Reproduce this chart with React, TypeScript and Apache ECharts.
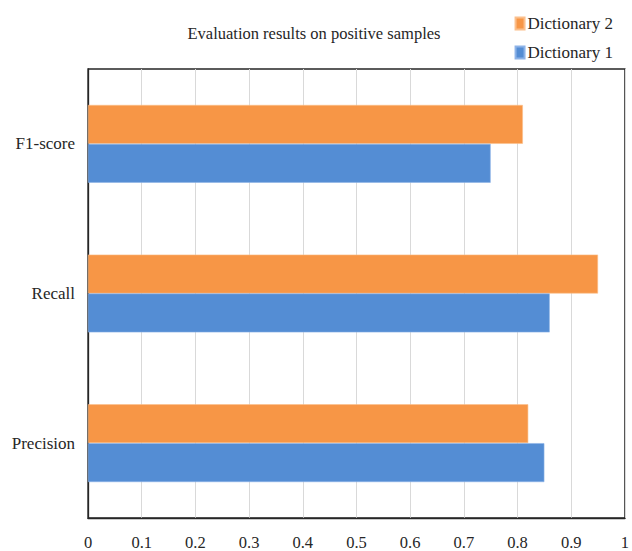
import React, { useEffect, useRef } from "react";
import * as echarts from "echarts";

const categories = ["Precision", "Recall", "F1-score"];
const dictionary1 = [0.85, 0.86, 0.75];
const dictionary2 = [0.82, 0.95, 0.81];
const xTicks = [0, 0.1, 0.2, 0.3, 0.4, 0.5, 0.6, 0.7, 0.8, 0.9, 1];

const FONT = "Liberation Serif";

export default function App() {
  const ref = useRef<HTMLDivElement>(null);

  useEffect(() => {
    if (!ref.current) return;
    const chart = echarts.init(ref.current, undefined, { renderer: "svg" });
    chart.setOption({
      animation: false,
      backgroundColor: "#ffffff",
      title: {
        text: "Evaluation results on positive samples",
        left: 309,
        textAlign: "center",
        top: 20,
        textStyle: { fontFamily: FONT, fontSize: 16.5, fontWeight: "normal", color: "#262626" },
      },
      legend: {
        orient: "vertical",
        right: 14,
        top: 10,
        itemWidth: 9,
        itemHeight: 12,
        itemGap: 12,
        icon: "rect",
        data: ["Dictionary 2", "Dictionary 1"],
        textStyle: { fontFamily: FONT, fontSize: 17, color: "#262626", padding: [0, 0, 0, -2] },
      },
      grid: {
        left: 88,
        right: 2,
        top: 69,
        bottom: 33,
        show: true,
        borderColor: "#262626",
        borderWidth: 1.3,
        backgroundColor: "transparent",
      },
      xAxis: {
        type: "value",
        min: 0,
        max: 1,
        interval: 0.1,
        axisLine: { show: true, lineStyle: { color: "#262626", width: 1.3 } },
        axisTick: { show: false },
        splitLine: { show: true, lineStyle: { color: "#d9d9d9", width: 1 } },
        axisLabel: {
          margin: 16,
          fontFamily: FONT,
          fontSize: 16.5,
          color: "#262626",
          formatter: (v: number) => {
            const t = xTicks.find((x) => Math.abs(x - v) < 1e-6);
            return t === undefined ? "" : String(t);
          },
        },
      },
      yAxis: {
        type: "category",
        data: categories,
        axisLine: { show: true, lineStyle: { color: "#262626", width: 1.3 } },
        axisTick: { show: false },
        axisLabel: { margin: 13, fontFamily: FONT, fontSize: 17, color: "#262626" },
      },
      series: [
        {
          name: "Dictionary 2",
          type: "bar",
          data: dictionary2,
          barCategoryGap: "48%",
          barGap: "0%",
          itemStyle: { color: "#f79646", borderColor: "#fbbf8c", borderWidth: 0.6 },
        },
        {
          name: "Dictionary 1",
          type: "bar",
          data: dictionary1,
          barCategoryGap: "48%",
          barGap: "0%",
          itemStyle: { color: "#548dd4", borderColor: "#8db3e8", borderWidth: 0.6 },
        },
      ],
    });
    return () => chart.dispose();
  }, []);

  return (
    <div
      ref={ref}
      style={{ position: "fixed", left: 0, top: 0, width: 632, height: 551 }}
    />
  );
}
